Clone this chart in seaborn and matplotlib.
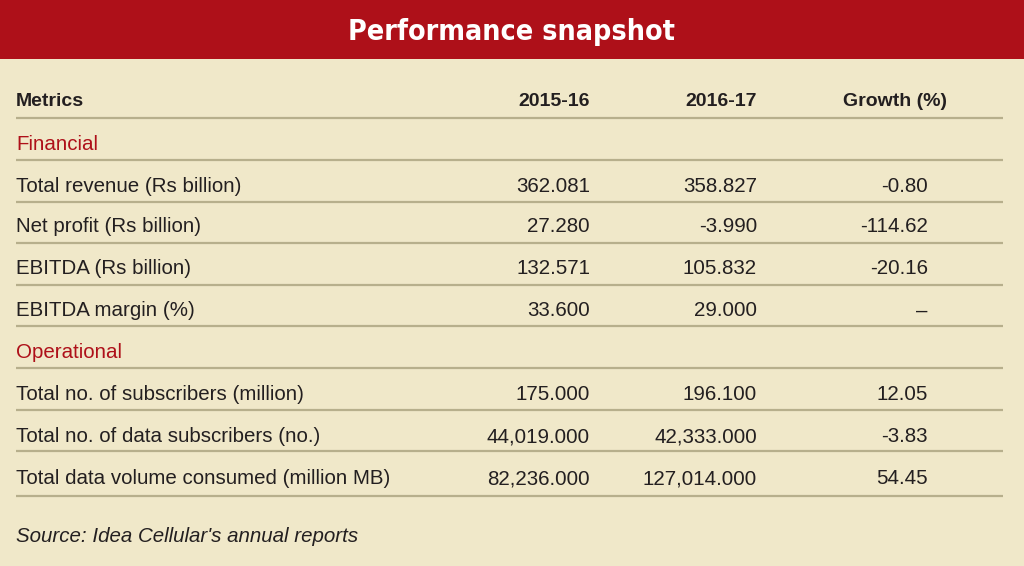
import matplotlib
matplotlib.use("Agg")
import matplotlib.pyplot as plt
import seaborn as sns

# Données du tableau
title = "Performance snapshot"
col_headers = ["Metrics", "2015-16", "2016-17", "Growth (%)"]
sections = ["Financial", "Operational"]
metrics = [
    "Total revenue (Rs billion)",
    "Net profit (Rs billion)",
    "EBITDA (Rs billion)",
    "EBITDA margin (%)",
    "Total no. of subscribers (million)",
    "Total no. of data subscribers (no.)",
    "Total data volume consumed (million MB)",
]
metric_section = [0, 0, 0, 0, 1, 1, 1]
values_1516 = [362.081, 27.280, 132.571, 33.600, 175.000, 44019.000, 82236.000]
values_1617 = [358.827, -3.990, 105.832, 29.000, 196.100, 42333.000, 127014.000]
growth = [-0.80, -114.62, -20.16, None, 12.05, -3.83, 54.45]
source = "Source: Idea Cellular's annual reports"

RED = "#AE1019"
CREAM = "#F0E8C9"
RULE = "#B7AF8C"
INK = "#231F20"

sns.set_theme(style="white")
plt.rcParams["font.family"] = ["Liberation Sans", "DejaVu Sans"]

fig = plt.figure(figsize=(10.24, 5.66), dpi=100, facecolor=CREAM)
ax = fig.add_axes([0, 0, 1, 1])
ax.set_facecolor(CREAM)
ax.set_xlim(0, 1024)
ax.set_ylim(566, 0)
ax.axis("off")

# bandeau titre
ax.axhspan(0, 59, color=RED, lw=0)
ax.text(512, 32, title, color="white", fontsize=20.5, fontweight="bold",
        family=["DejaVu Sans"], fontstretch="condensed", ha="center", va="center")

x_left = 16
x_cols = [590, 757, 947]
x_growth = 928
fs = 14.75

# en-têtes
ax.text(x_left, 102, col_headers[0], fontsize=14, fontweight="bold", color=INK,
        ha="left", va="center")
for x, h in zip(x_cols, col_headers[1:]):
    ax.text(x, 102, h, fontsize=14, fontweight="bold", color=INK, ha="right", va="center")

# construction des lignes
rows = []
current = None
for i, m in enumerate(metrics):
    if metric_section[i] != current:
        current = metric_section[i]
        rows.append(("section", sections[current], i))
    rows.append(("metric", m, i))

row_y = [144, 186, 227, 269, 311, 353, 395, 437, 479]
line_y = [118, 160, 201.5, 243, 284.5, 326, 367.5, 409.5, 451, 496]
ax.hlines(line_y, x_left, 1003, color=RULE, lw=1.6)

for (kind, label, i), y in zip(rows, row_y):
    if kind == "section":
        ax.text(x_left, y, label, fontsize=fs, color=RED, ha="left", va="center")
        continue
    ax.text(x_left, y, label, fontsize=fs, color=INK, ha="left", va="center")
    ax.text(x_cols[0], y, f"{values_1516[i]:,.3f}", fontsize=fs, color=INK,
            ha="right", va="center")
    ax.text(x_cols[1], y, f"{values_1617[i]:,.3f}", fontsize=fs, color=INK,
            ha="right", va="center")
    g = "–" if growth[i] is None else f"{growth[i]:.2f}"
    ax.text(x_growth, y, g, fontsize=fs, color=INK, ha="right", va="center")

ax.text(x_left, 537, source, fontsize=fs, style="italic", color=INK,
        ha="left", va="center")

fig.savefig("out.png", dpi=100, facecolor=CREAM)
